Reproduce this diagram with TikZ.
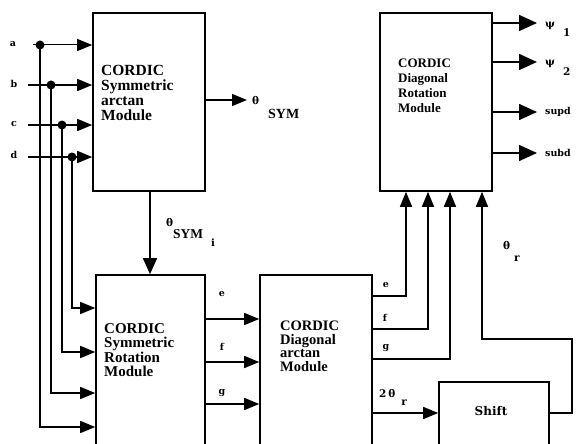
\documentclass[tikz,border=0pt]{standalone}
\usepackage{fontspec}
\setmainfont{Liberation Serif}
\newfontfamily\labfont{DejaVu Serif}
\usetikzlibrary{arrows.meta, positioning, calc}

\begin{document}
\begin{tikzpicture}[x=1pt, y=-1pt,
  module/.style={draw, line width=1.6pt, minimum width=112pt, inner sep=0pt},
  modtext/.style={anchor=north west, align=left, inner sep=0pt, font=\fontsize{15}{15}\selectfont\bfseries},
  sig/.style={inner sep=0pt, font=\labfont\fontsize{9.5}{10}\selectfont\bfseries},
  greek/.style={sig, anchor=base west, font=\labfont\fontsize{10.5}{11}\selectfont\bfseries},
  sub/.style={font=\fontsize{14}{14}\selectfont\bfseries},
  wire/.style={line width=1.6pt},
  arrow/.style={wire, -{Triangle[length=15pt, width=12pt]}},
  bigarrow/.style={wire, -{Triangle[length=18pt, width=16pt]}},
  tap/.style={circle, fill, inner sep=0pt, minimum size=9pt}
]
\useasboundingbox (0,0) rectangle (579,444);
\clip (0,0) rectangle (579,444);

% Top row: modules
\node[module, minimum height=178pt] (symatan) at (149,102) {};
\node[module, minimum height=178pt] (diagrot) at (436,102) {};
\node[modtext, font=\fontsize{15.5}{15}\selectfont\bfseries] (symatantxt) at (101,65) {CORDIC\\Symmetric\\arctan\\Module};
\node[modtext, font=\fontsize{13}{15}\selectfont\bfseries] (diagrottxt) at (398,59) {CORDIC\\Diagonal\\Rotation\\Module};

% Bottom row: modules (cut by the page edge)
\node[module, minimum width=109pt, minimum height=195pt] (symrot) at (150.5,372.5) {};
\node[module, minimum height=195pt] (diagatan) at (316,372.5) {};
\node[module, minimum width=110pt, minimum height=88pt] (shift) at (494,426) {};
\node[modtext, font=\fontsize{15}{14.5}\selectfont\bfseries] (symrottxt) at (104,323) {CORDIC\\Symmetric\\Rotation\\Module};
\node[modtext, font=\fontsize{14.5}{13.5}\selectfont\bfseries] (diagatantxt) at (280,321) {CORDIC\\Diagonal\\arctan\\Module};
\node[sig, font=\labfont\fontsize{12}{12}\selectfont\bfseries] (shifttxt) at (491,411) {Shift};

% Inputs a..d
\node[sig] (la) at (13,44) {a};
\node[sig] (lb) at (14,84) {b};
\node[sig] (lc) at (14,124) {c};
\node[sig] (ld) at (14,155) {d};
\coordinate (ina) at (33,45);
\coordinate (inb) at (28,85);
\coordinate (inc) at (28,125);
\coordinate (ind) at (28,157);
\node[tap] (tapa) at (40,45) {};
\node[tap] (tapb) at (51,85) {};
\node[tap] (tapc) at (62,125) {};
\node[tap] (tapd) at (72,157) {};
\draw[arrow, line width=1pt] (ina) -- (symatan.west |- ina);
\draw[arrow] (inb) -- (symatan.west |- inb);
\draw[arrow] (inc) -- (symatan.west |- inc);
\draw[arrow] (ind) -- (symatan.west |- ind);

% Taps down to the rotation module
\coordinate (rota) at (symrot.west |- 0,427);
\coordinate (rotb) at (symrot.west |- 0,393);
\coordinate (rotc) at (symrot.west |- 0,352);
\coordinate (rotd) at (symrot.west |- 0,308);
\draw[arrow] (tapa.center) |- (rota);
\draw[arrow] (tapb.center) |- (rotb);
\draw[arrow] (tapc.center) |- (rotc);
\draw[arrow] (tapd.center) |- (rotd);

% theta_SYM
\coordinate (thout) at (247,100);
\draw[arrow] (symatan.east |- thout) -- (thout);
\node[greek] (thsym) at (252,105) {θ\hspace{9pt}\raisebox{-14pt}{\fontsize{14}{14}\selectfont\rmfamily\bfseries SYM}};
\draw[arrow, -{Triangle[length=16pt, width=14pt]}] (symatan.south -| 150,0) -- (symrot.north -| 150,0);
\node[greek] (thsymi) at (166,226) {θ\raisebox{-12pt}{\fontsize{13.5}{14}\selectfont\rmfamily\bfseries SYM\raisebox{-8pt}{\hspace{8pt}\labfont\fontsize{10}{10}\selectfont i}}};

% e, f, g between the two lower modules
\foreach \sy/\nm in {319/e, 362/f, 404/g}
  \draw[arrow] (symrot.east |- 0,\sy) -- (diagatan.west |- 0,\sy);
\node[sig] (le1) at (222,294) {e};
\node[sig] (lf1) at (222,347) {f};
\node[sig] (lg1) at (222,393) {g};

% e, f, g up to the diagonal rotation module
\draw[arrow] (diagatan.east |- 0,296) -| (diagrot.south -| 406,0);
\draw[arrow] (diagatan.east |- 0,329) -| (diagrot.south -| 428,0);
\draw[arrow] (diagatan.east |- 0,359) -| (diagrot.south -| 450,0);
\node[sig] (le2) at (386,285) {e};
\node[sig] (lf2) at (385,318) {f};
\node[sig] (lg2) at (386,348) {g};

% 2 theta_r into shift, theta_r back up
\draw[arrow] (diagatan.east |- 0,413) -- (shift.west |- 0,413);
\node[greek] (twothr) at (379,397) {2\,θ\raisebox{-8pt}{\hspace{6pt}r}};
\coordinate (fbk) at (572,339);
\draw[arrow] (shift.east |- 0,413) -| (fbk) -| (diagrot.south -| 482,0);
\node[greek] (thr) at (503,249) {θ\raisebox{-12pt}{\hspace{4pt}r}};

% Outputs
\coordinate (opsa) at (537,23);
\coordinate (opsb) at (537,62);
\coordinate (osup) at (537,112);
\coordinate (osub) at (537,153);
\draw[bigarrow] (diagrot.east |- opsa) -- (opsa);
\draw[bigarrow] (diagrot.east |- opsb) -- (opsb);
\draw[bigarrow] (diagrot.east |- osup) -- (osup);
\draw[bigarrow] (diagrot.east |- osub) -- (osub);
\node[greek] (lpsa) at (545,28) {ψ\hspace{8pt}\raisebox{-9pt}{1}};
\node[greek] (lpsb) at (545,66) {ψ\hspace{8pt}\raisebox{-10pt}{2}};
\node[sig, anchor=west] (lsup) at (545,112) {supd};
\node[sig, anchor=west] (lsub) at (545,153) {subd};

\end{tikzpicture}
\end{document}
